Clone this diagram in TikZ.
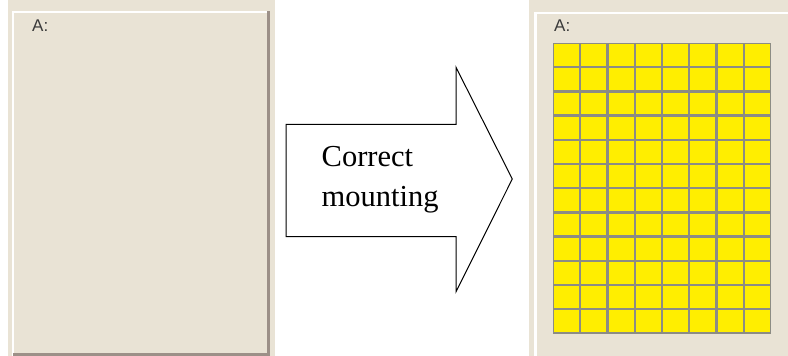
\documentclass[tikz,border=0pt]{standalone}
\usepackage{fontspec}
\setmainfont{Liberation Serif}
\newfontfamily\uifont{Liberation Sans}
\definecolor{panelbg}{HTML}{E9E3D5}
\definecolor{paneldark}{HTML}{9C9088}
\definecolor{cellyellow}{HTML}{FFEE00}
\definecolor{cellgrid}{HTML}{8C8C84}
\definecolor{uitext}{HTML}{3A3A3A}
\tikzset{
  panelfill/.style={fill=panelbg, draw=none},
  hilite/.style={draw=white, line width=2.5pt},
  shadow/.style={draw=paneldark, line width=3pt},
  cellbox/.style={fill=cellyellow, draw=cellgrid, line width=1.4pt},
  uilabel/.style={font=\uifont\fontsize{17}{18}\selectfont, text=uitext, inner sep=0pt, anchor=base west},
  arrowtext/.style={font=\fontsize{30.5}{40}\selectfont, inner sep=0pt, anchor=base west},
  bigarrow/.style={draw=black, line width=1pt, fill=white, line join=miter}
}
\begin{document}
\begin{tikzpicture}[x=1pt,y=-1pt]
\useasboundingbox (0,0) rectangle (788,356);
% left panel
\fill[panelfill] (8,0) rectangle (275,356);
\draw[hilite] (13,356) -- (13,12) -- (267,12);
\draw[shadow] (268.5,11) -- (268.5,356);
\draw[shadow] (13,354.5) -- (270,354.5);
\node[uilabel] (la) at (32,31) {A:};
% right panel
\fill[panelfill] (529,0) rectangle (788,356);
\draw[hilite] (535.5,356) -- (535.5,13) -- (788,13);
\node[uilabel] (ra) at (554,31) {A:};
\foreach \c in {0,...,7}{
  \foreach \r in {0,...,11}{
    \draw[cellbox] ({553.5+27.25*\c},{43.5+24.2*\r}) rectangle ++(26.2,23.2);
  }
}
% arrow
\draw[bigarrow] (286,124.3) -- (456,124.3) -- (456,67.3) -- (512.3,179)
  -- (456,291.7) -- (456,236.7) -- (286,236.7) -- cycle;
\node[arrowtext] (t1) at (321.5,166) {Correct};
\node[arrowtext] (t2) at (321.5,206.5) {mounting};
\end{tikzpicture}
\end{document}
